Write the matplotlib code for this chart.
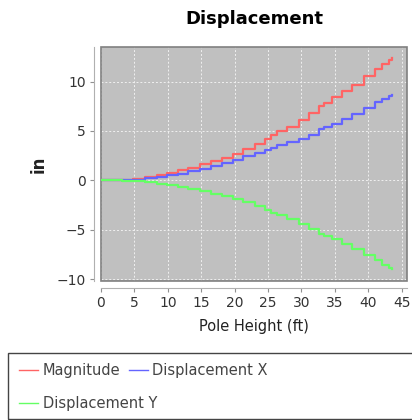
import matplotlib
matplotlib.use("Agg")
import matplotlib.pyplot as plt
from matplotlib.patches import Rectangle

# pole height where each step starts (ft)
height = [0, 1.6, 3.2, 4.8, 6.6, 8.4, 9.9, 11.5, 13.1, 14.8, 16.4, 18.1, 19.7, 21.3,
          23.0, 24.6, 25.5, 26.3, 27.9, 29.6, 31.2, 32.7, 33.4, 34.5, 36.0, 37.6,
          39.3, 41.0, 42.1, 43.1, 43.6]
magnitude = [0, 0.02, 0.06, 0.17, 0.34, 0.5, 0.74, 1.0, 1.29, 1.62, 1.96, 2.3, 2.7,
             3.15, 3.65, 4.16, 4.57, 4.97, 5.4, 6.1, 6.8, 7.5, 7.8, 8.4, 9.0, 9.7,
             10.6, 11.3, 11.8, 12.2, 12.4]
disp_x = [0, 0.01, 0.03, 0.07, 0.2, 0.34, 0.5, 0.68, 0.9, 1.18, 1.45, 1.76, 2.1,
          2.44, 2.8, 3.1, 3.3, 3.55, 3.9, 4.2, 4.6, 5.2, 5.4, 5.7, 6.2, 6.7, 7.3,
          7.9, 8.2, 8.5, 8.6]
disp_y = [0, -0.01, -0.04, -0.1, -0.17, -0.34, -0.5, -0.68, -0.85, -1.08, -1.35,
          -1.6, -1.86, -2.2, -2.6, -3.05, -3.3, -3.55, -3.9, -4.4, -4.9, -5.4,
          -5.65, -5.9, -6.5, -7.0, -7.6, -8.1, -8.6, -8.9, -9.0]

x_ticks = [0, 5, 10, 15, 20, 25, 30, 35, 40, 45]
y_ticks = [-10, -5, 0, 5, 10]

series = [
    ("Magnitude", magnitude, "#ff6464"),
    ("Displacement X", disp_x, "#6464ff"),
    ("Displacement Y", disp_y, "#64ff64"),
]

fig = plt.figure(figsize=(4.12, 4.2), dpi=100)
ax = fig.add_axes([0.245, 0.331, 0.743, 0.557])
ax.set_facecolor("#c0c0c0")

handles = {}
for label, values, color in series:
    (line,) = ax.step(height, values, where="post", color=color, linewidth=1.6)
    handles[label] = line

ax.set_xlim(0, 45.8)
ax.set_ylim(-10.2, 13.5)
ax.set_xticks(x_ticks)
ax.set_yticks(y_ticks)
ax.grid(True, color="#f0f0f0", linestyle=(0, (2, 2)), linewidth=0.7)
ax.set_axisbelow(True)

for side in ["top", "right"]:
    ax.spines[side].set_visible(False)
for side in ["left", "bottom"]:
    ax.spines[side].set_position(("outward", 5))
    ax.spines[side].set_color("#b0b0b0")
ax.add_patch(Rectangle((0, 0), 1, 1, transform=ax.transAxes, fill=False,
                       edgecolor="#808080", linewidth=1.2, clip_on=False))

ax.tick_params(direction="out", length=3, color="#909090", labelsize=10,
               labelcolor="#333333", pad=3)
ax.set_xlabel("Pole Height (ft)", fontsize=10.5, color="#222222", labelpad=6)
ax.set_ylabel("in", fontsize=12, fontweight="bold", color="#222222", labelpad=6)
fig.text(0.5 * (0.245 + 0.988), 0.955, "Displacement", ha="center", va="center",
         fontsize=13, fontweight="bold")

# legend box under the plot
fig.patches.append(Rectangle((0.02, 0.003), 0.985, 0.157, transform=fig.transFigure,
                             fill=False, edgecolor="#444444", linewidth=1.0))
row1 = fig.legend([handles["Magnitude"], handles["Displacement X"]],
                  ["Magnitude", "Displacement X"], ncol=2, frameon=False,
                  loc="center left", bbox_to_anchor=(0.015, 0.118), fontsize=10.5,
                  handlelength=1.3, handletextpad=0.3, columnspacing=0.6,
                  labelcolor="#444444")
for h in row1.legend_handles:
    h.set_linewidth(1.0)
row2 = fig.legend([handles["Displacement Y"]], ["Displacement Y"], frameon=False,
                  loc="center left", bbox_to_anchor=(0.015, 0.040), fontsize=10.5,
                  handlelength=1.3, handletextpad=0.3, labelcolor="#444444")
for h in row2.legend_handles:
    h.set_linewidth(1.0)

fig.savefig("out.png", dpi=100)
